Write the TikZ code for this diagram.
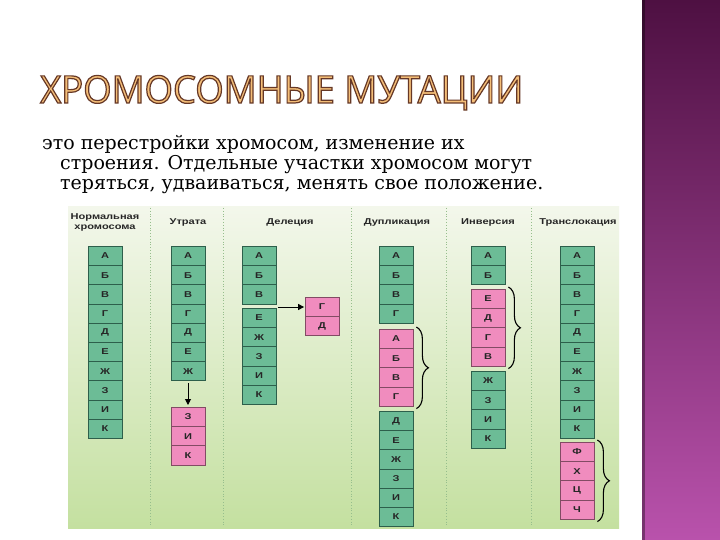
\documentclass[tikz,border=0pt]{standalone}
\usepackage{fontspec}
\setmainfont{DejaVu Serif}
\newfontfamily\hfont[FakeStretch=1.3]{Liberation Sans}
\newfontfamily\ttlfont[FakeStretch=0.96]{Open Sans}
\usetikzlibrary{decorations.pathreplacing,arrows.meta,calc}
\definecolor{gfill}{RGB}{108,188,150}
\definecolor{gborder}{RGB}{45,95,75}
\definecolor{pfill}{RGB}{240,140,190}
\definecolor{pborder}{RGB}{130,75,100}
\definecolor{panelTop}{RGB}{243,247,235}
\definecolor{panelBot}{RGB}{196,224,160}
\definecolor{purpTop}{RGB}{78,16,66}
\definecolor{purpBot}{RGB}{185,82,172}
\definecolor{titleFill}{RGB}{244,190,120}
\definecolor{divider}{RGB}{150,190,140}
\newcommand\chromcol[5]{%
  \foreach \l [count=\i from 0] in {#5} {\node[#4] (#1\i) at (#2,#3+\i*19.2) {\l};}}
\newcommand\outlinedtext[1]{\special{pdf:literal direct q 2 Tr 1.2 w 0.40 0.22 0.15 RG}#1\special{pdf:literal direct Q}}
\tikzset{
  gbox/.style={draw=gborder, fill=gfill, line width=0.8pt, minimum width=34pt,
    minimum height=19.2pt, inner sep=0pt, anchor=north, text=black!85,
    font=\hfont\bfseries\fontsize{8.5}{9}\selectfont},
  pbox/.style={gbox, fill=pfill, draw=pborder},
  hdr/.style={font=\hfont\bfseries\fontsize{8.5}{10}\selectfont, align=center, text=black!85, inner sep=0pt},
  brc/.style={decorate, decoration={brace, amplitude=12pt}, line width=1.1pt},
  arr/.style={-{Triangle[length=6pt,width=6pt]}, line width=1pt},
  body/.style={anchor=base west, inner sep=0pt, font=\fontsize{19}{20}\selectfont},
  ttl/.style={font=\ttlfont\fontsize{38}{40}\selectfont, inner sep=0pt, anchor=base west},
  dividerline/.style={draw=divider, dotted, line width=0.8pt}
}
\begin{document}
\begin{tikzpicture}[x=1pt,y=-1pt]
\useasboundingbox (0,0) rectangle (720,540);
\fill[white] (0,0) rectangle (720,540);
% purple side bar
\fill[top color=purpTop, bottom color=purpBot] (642,0) rectangle (720,540);
\fill[black, opacity=0.35] (642,0) rectangle (645,540);
% title
\node[ttl, text=titleFill] (title) at (40,103) {\outlinedtext{ХРОМОСОМНЫЕ МУТАЦИИ}};
% body text
\node[body] (l1) at (42,150) {это перестройки хромосом, изменение их};
\node[body] (l2) at (60,170) {строения. Отдельные участки хромосом могут};
\node[body] (l3) at (60,190) {теряться, удваиваться, менять свое положение.};
% panel
\fill[top color=panelTop, bottom color=panelBot] (68,207) rectangle (619,528);
\foreach \x in {150,223,351,446,531} {\draw[dividerline] (\x,208) -- (\x,527);}
% headers
\node[hdr] (h1) at (105,222.5) {Нормальная\\хромосома};
\node[hdr] (h2) at (188,222) {Утрата};
\node[hdr] (h3) at (290,222) {Делеция};
\node[hdr] (h4) at (397,222) {Дупликация};
\node[hdr] (h5) at (488,222) {Инверсия};
\node[hdr] (h6) at (578,222) {Транслокация};
% columns
\chromcol{n}{105}{246}{gbox}{А,Б,В,Г,Д,Е,Ж,З,И,К}
\chromcol{u}{188}{246}{gbox}{А,Б,В,Г,Д,Е,Ж}
\chromcol{uz}{188}{407}{pbox}{З,И,К}
\chromcol{d}{259}{246}{gbox}{А,Б,В}
\chromcol{de}{259}{308}{gbox}{Е,Ж,З,И,К}
\chromcol{dp}{322}{297}{pbox}{Г,Д}
\chromcol{p}{396}{246}{gbox}{А,Б,В,Г}
\chromcol{pp}{396}{329}{pbox}{А,Б,В,Г}
\chromcol{pg}{396}{411}{gbox}{Д,Е,Ж,З,И,К}
\chromcol{i}{488}{246}{gbox}{А,Б}
\chromcol{ip}{488}{289}{pbox}{Е,Д,Г,В}
\chromcol{ig}{488}{371}{gbox}{Ж,З,И,К}
\chromcol{t}{577}{246}{gbox}{А,Б,В,Г,Д,Е,Ж,З,И,К}
\chromcol{tp}{577}{442}{pbox}{Ф,Х,Ц,Ч}
% arrows
\draw[arr] ([yshift=-2pt]u6.south) -- ([yshift=2pt]uz0.north);
\draw[arr] (d2.east |- dp0.west) ++(2,0) -- ([xshift=-0.5pt]dp0.west);
% braces
\draw[brc] ([xshift=3pt,yshift=2pt]pp0.north east) -- ([xshift=3pt,yshift=-2pt]pp3.south east);
\draw[brc] ([xshift=3pt,yshift=2pt]ip0.north east) -- ([xshift=3pt,yshift=-2pt]ip3.south east);
\draw[brc] ([xshift=3pt,yshift=2pt]tp0.north east) -- ([xshift=3pt,yshift=-2pt]tp3.south east);
\end{tikzpicture}
\end{document}
